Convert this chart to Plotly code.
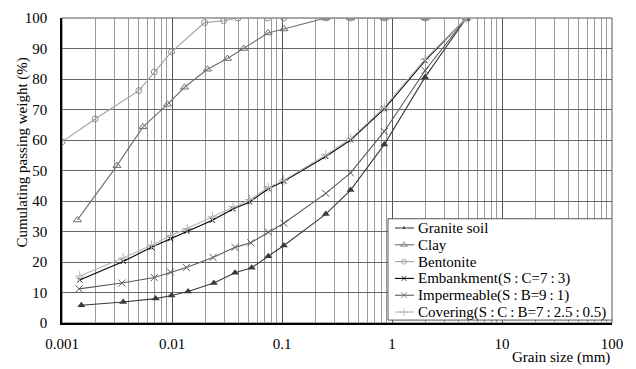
import plotly.graph_objects as go

# Grain size (mm) and passing (%)
granite_x = [0.0015, 0.0036, 0.0071, 0.0099, 0.014, 0.024, 0.0374, 0.053, 0.075, 0.104, 0.25, 0.42, 0.85, 2.0, 4.75]
granite_y = [5.8, 6.9, 8.0, 9.0, 10.3, 13.1, 16.5, 18.1, 21.9, 25.4, 35.7, 43.6, 58.5, 80.6, 100]

clay_x = [0.00138, 0.00316, 0.00545, 0.0091, 0.013, 0.021, 0.0319, 0.0449, 0.0746, 0.104, 0.25, 0.42, 0.85, 2.0, 4.75]
clay_y = [33.8, 51.6, 64.3, 71.7, 77.3, 83.2, 86.7, 90.0, 95.1, 96.4, 100, 100, 100, 100, 100]

bento_x = [0.001, 0.002, 0.005, 0.0069, 0.0099, 0.0198, 0.0295, 0.0398, 0.074, 0.104, 0.25, 0.42, 0.85, 2.0, 4.75]
bento_y = [59.4, 66.9, 76.2, 82.3, 88.9, 98.5, 99.1, 100, 100, 100, 100, 100, 100, 100, 100]

emb_x = [0.00145, 0.0036, 0.0065, 0.0097, 0.0137, 0.0233, 0.0359, 0.0508, 0.075, 0.104, 0.25, 0.42, 0.85, 2.0, 4.75]
emb_y = [14.1, 20.2, 24.8, 27.6, 30.1, 33.7, 37.4, 39.7, 44.0, 46.5, 54.6, 60.0, 70.2, 86.0, 100]

imp_x = [0.00143, 0.0035, 0.0069, 0.0097, 0.0135, 0.0236, 0.0374, 0.052, 0.0752, 0.104, 0.25, 0.42, 0.85, 2.0, 4.75]
imp_y = [11.2, 13.1, 14.9, 16.7, 18.2, 21.5, 24.8, 26.3, 29.8, 32.7, 42.5, 49.2, 62.8, 82.8, 100]

cov_x = [0.00145, 0.0036, 0.0065, 0.0097, 0.0137, 0.0233, 0.0359, 0.0508, 0.075, 0.104, 0.25, 0.42, 0.85, 2.0, 4.75]
cov_y = [15.4, 21.3, 25.5, 28.7, 31.0, 34.8, 38.1, 40.4, 44.4, 46.8, 55.1, 60.4, 70.7, 86.5, 100]

x_ticks = [0.001, 0.01, 0.1, 1, 10, 100]
x_labels = ["0.001", "0.01", "0.1", "1", "10", "100"]
y_ticks = [0, 10, 20, 30, 40, 50, 60, 70, 80, 90, 100]

FONT = "'Liberation Serif', 'Times New Roman', Times, serif"
T = "\u2009"

series = [
    ("Granite soil", granite_x, granite_y, "#3a3a3a", dict(symbol="triangle-up", size=7, color="#3a3a3a")),
    ("Clay", clay_x, clay_y, "#6e6e6e", dict(symbol="triangle-up-open", size=7, color="#6e6e6e")),
    ("Bentonite", bento_x, bento_y, "#a0a0a0", dict(symbol="circle-open", size=6, color="#8c8c8c")),
    (f"Embankment(S{T}:{T}C=7{T}:{T}3)", emb_x, emb_y, "#000000", dict(symbol="x-thin-open", size=5, color="#000000", line=dict(width=1, color="#000000"))),
    (f"Impermeable(S{T}:{T}B=9{T}:{T}1)", imp_x, imp_y, "#5a5a5a", dict(symbol="x-thin-open", size=7, color="#5a5a5a", line=dict(width=1, color="#5a5a5a"))),
    (f"Covering(S{T}:{T}C{T}:{T}B=7{T}:{T}2.5{T}:{T}0.5)", cov_x, cov_y, "#b4b4b4", dict(symbol="cross-thin-open", size=7, color="#b4b4b4", line=dict(width=1, color="#b4b4b4"))),
]

fig = go.Figure()
for name, xs, ys, col, mk in series:
    fig.add_trace(go.Scatter(x=xs, y=ys, name=name, mode="lines+markers",
                             line=dict(color=col, width=1.1), marker=mk, showlegend=False))

# Legend drawn on an overlay axis measured in page pixels (layout only)
LX0, LX1, LY0, LY1 = 388, 612, 216, 320
ROW0, ROWH = 225.5, 17.25
fig.add_trace(go.Scatter(x=[LX0, LX1, LX1, LX0, LX0], y=[LY0, LY0, LY1, LY1, LY0],
                         xaxis="x2", yaxis="y2", mode="lines", fill="toself",
                         fillcolor="white", line=dict(color="#555", width=1),
                         hoverinfo="skip", showlegend=False))
for i, (name, xs, ys, col, mk) in enumerate(series):
    ry = ROW0 + ROWH * i
    m = dict(mk)
    m["size"] = [0, max(mk["size"] - 1, 5), 0]
    fig.add_trace(go.Scatter(x=[395, 404, 414], y=[ry, ry, ry], xaxis="x2", yaxis="y2",
                             mode="lines+markers", line=dict(color=col, width=1.1),
                             marker=m, hoverinfo="skip", showlegend=False))
    fig.add_annotation(text=name, xref="x2", yref="y2", x=416, y=ry,
                       xanchor="left", yanchor="middle", showarrow=False,
                       font=dict(family=FONT, size=15, color="#000"))

fig.update_layout(
    width=636, height=369,
    margin=dict(l=62, r=24, t=10, b=46),
    paper_bgcolor="white", plot_bgcolor="white",
    font=dict(family=FONT, size=15, color="#000"),
    showlegend=False,
    xaxis2=dict(overlaying="x", range=[62, 612], visible=False, anchor="y2", fixedrange=True),
    yaxis2=dict(overlaying="y", range=[323, 10], visible=False, anchor="x2", fixedrange=True),
)
fig.update_xaxes(selector=dict(type="log"))
fig.update_layout(xaxis=dict(type="log", range=[-3, 2], tickvals=x_ticks, ticktext=x_labels,
                             showgrid=True, gridcolor="#555", gridwidth=1,
                             minor=dict(dtick="D1", showgrid=True, gridcolor="#9a9a9a", gridwidth=1),
                             showline=True, linecolor="#000", linewidth=1.5,
                             ticks="", ticklabelstandoff=6, zeroline=False),
                  yaxis=dict(range=[0, 100], tickvals=y_ticks,
                             showgrid=True, gridcolor="#666", gridwidth=1,
                             showline=True, linecolor="#000", linewidth=1.5,
                             ticks="", ticklabelstandoff=10, zeroline=False))
fig.add_shape(type="rect", xref="paper", yref="paper", x0=0, y0=0, x1=1, y1=1,
              line=dict(color="#555", width=1), layer="below")
fig.add_annotation(text="Grain size (mm)", xref="paper", yref="paper",
                   x=1, y=-0.112, xanchor="right", yanchor="middle",
                   showarrow=False, font=dict(family=FONT, size=15))
fig.add_annotation(text="Cumulating passing weight (%)", xref="paper", yref="paper",
                   x=-0.072, y=0.56, xanchor="center", yanchor="middle", textangle=-90,
                   showarrow=False, font=dict(family=FONT, size=15))

fig.write_html("out.html")
